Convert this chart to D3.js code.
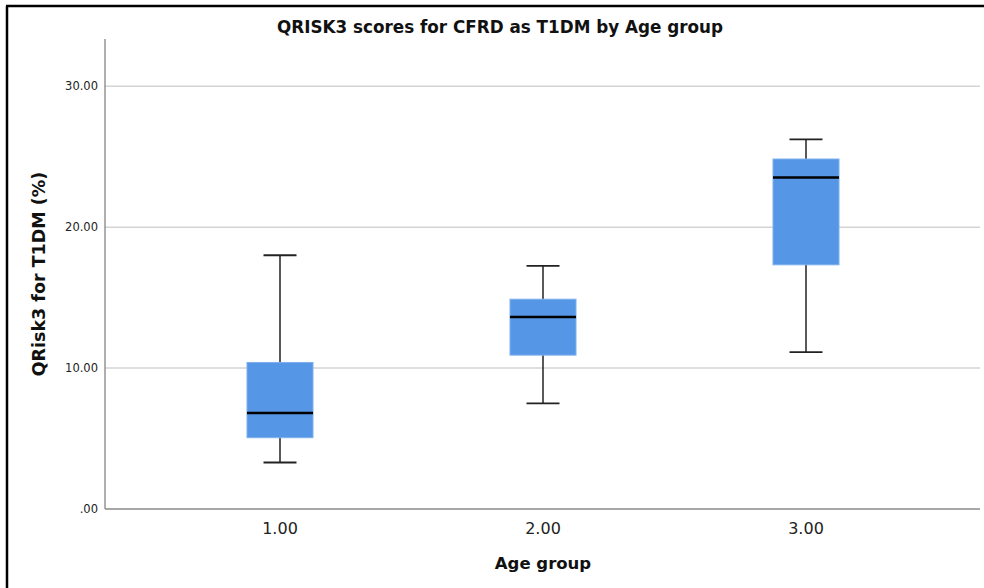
<!DOCTYPE html>
<html>
<head>
<meta charset="utf-8">
<script src="https://cdn.jsdelivr.net/npm/d3@7"></script>
<style>
  body { margin: 0; background: #fff; }
  svg { display: block; font-family: "DejaVu Sans", sans-serif; }
</style>
</head>
<body>
<script>
// box plot values
var groups  = ["1.00", "2.00", "3.00"];
var whiskLo = [3.30, 7.49, 11.13];
var q1      = [5.06, 10.92, 17.33];
var median  = [6.81, 13.62, 23.52];
var q3      = [10.40, 14.89, 24.84];
var whiskHi = [18.01, 17.26, 26.24];
var yTicks  = [0, 10, 20, 30];

var W = 984, H = 588;
var plotL = 105, plotR = 980, plotT = 39, plotB = 509;

var svg = d3.select("body").append("svg")
    .attr("width", W)
    .attr("height", H);

// frame (top + left only, rest is cropped in the original)
svg.append("line").attr("x1", 6).attr("x2", W).attr("y1", 6).attr("y2", 6)
    .attr("stroke", "#000").attr("stroke-width", 2.5);
svg.append("line").attr("x1", 7).attr("x2", 7).attr("y1", 6).attr("y2", H)
    .attr("stroke", "#000").attr("stroke-width", 2.5);

var y = d3.scaleLinear().domain([0, 30]).range([plotB, 86.3]);
var x = d3.scalePoint().domain(groups).range([280, 806]);

// gridlines
svg.selectAll("line.grid")
    .data(yTicks.filter(function(d) { return d > 0; }))
    .enter().append("line")
    .attr("class", "grid")
    .attr("x1", plotL).attr("x2", plotR)
    .attr("y1", function(d) { return y(d); })
    .attr("y2", function(d) { return y(d); })
    .attr("stroke", "#d4d4d4").attr("stroke-width", 1.5);

// y tick labels
svg.selectAll("text.ytick")
    .data(yTicks)
    .enter().append("text")
    .attr("class", "ytick")
    .attr("x", plotL - 7)
    .attr("y", function(d) { return y(d) + 4; })
    .attr("text-anchor", "end")
    .attr("font-size", 11.5)
    .attr("fill", "#222")
    .text(function(d) { return d === 0 ? ".00" : d3.format(".2f")(d); });

// axes lines
svg.append("line").attr("x1", plotL).attr("x2", plotL).attr("y1", plotT).attr("y2", plotB)
    .attr("stroke", "#7a7a7a").attr("stroke-width", 1.2);
svg.append("line").attr("x1", plotL).attr("x2", plotR).attr("y1", plotB).attr("y2", plotB)
    .attr("stroke", "#8a8a8a").attr("stroke-width", 1.5);

var boxW = 66, capW = 33;

var box = svg.selectAll("g.box")
    .data(groups)
    .enter().append("g")
    .attr("class", "box");

// whiskers
box.append("line")
    .attr("x1", function(d) { return x(d); })
    .attr("x2", function(d) { return x(d); })
    .attr("y1", function(d, i) { return y(whiskLo[i]); })
    .attr("y2", function(d, i) { return y(whiskHi[i]); })
    .attr("stroke", "#222").attr("stroke-width", 1.5);

[whiskLo, whiskHi].forEach(function(arr) {
  box.append("line")
      .attr("x1", function(d) { return x(d) - capW / 2; })
      .attr("x2", function(d) { return x(d) + capW / 2; })
      .attr("y1", function(d, i) { return y(arr[i]); })
      .attr("y2", function(d, i) { return y(arr[i]); })
      .attr("stroke", "#222").attr("stroke-width", 1.8);
});

// boxes
box.append("rect")
    .attr("x", function(d) { return x(d) - boxW / 2; })
    .attr("y", function(d, i) { return y(q3[i]); })
    .attr("width", boxW)
    .attr("height", function(d, i) { return y(q1[i]) - y(q3[i]); })
    .attr("fill", "#5596e6")
    .attr("stroke", "#7fb0ee").attr("stroke-width", 1);

// medians
box.append("line")
    .attr("x1", function(d) { return x(d) - boxW / 2; })
    .attr("x2", function(d) { return x(d) + boxW / 2; })
    .attr("y1", function(d, i) { return y(median[i]); })
    .attr("y2", function(d, i) { return y(median[i]); })
    .attr("stroke", "#000").attr("stroke-width", 2.5);

// x tick labels
svg.selectAll("text.xtick")
    .data(groups)
    .enter().append("text")
    .attr("class", "xtick")
    .attr("x", function(d) { return x(d); })
    .attr("y", 534)
    .attr("text-anchor", "middle")
    .attr("font-size", 16)
    .attr("fill", "#222")
    .text(function(d) { return d; });

// titles
svg.append("text")
    .attr("x", 500).attr("y", 33)
    .attr("text-anchor", "middle")
    .attr("font-size", 16.8).attr("font-weight", "bold")
    .attr("fill", "#111")
    .text("QRISK3 scores for CFRD as T1DM by Age group");

svg.append("text")
    .attr("x", 543).attr("y", 569)
    .attr("text-anchor", "middle")
    .attr("font-size", 16.5).attr("font-weight", "bold")
    .attr("fill", "#111")
    .text("Age group");

svg.append("text")
    .attr("transform", "translate(45,274) rotate(-90)")
    .attr("text-anchor", "middle")
    .attr("font-size", 17.5).attr("font-weight", "bold")
    .attr("fill", "#111")
    .text("QRisk3 for T1DM (%)");
</script>
</body>
</html>
